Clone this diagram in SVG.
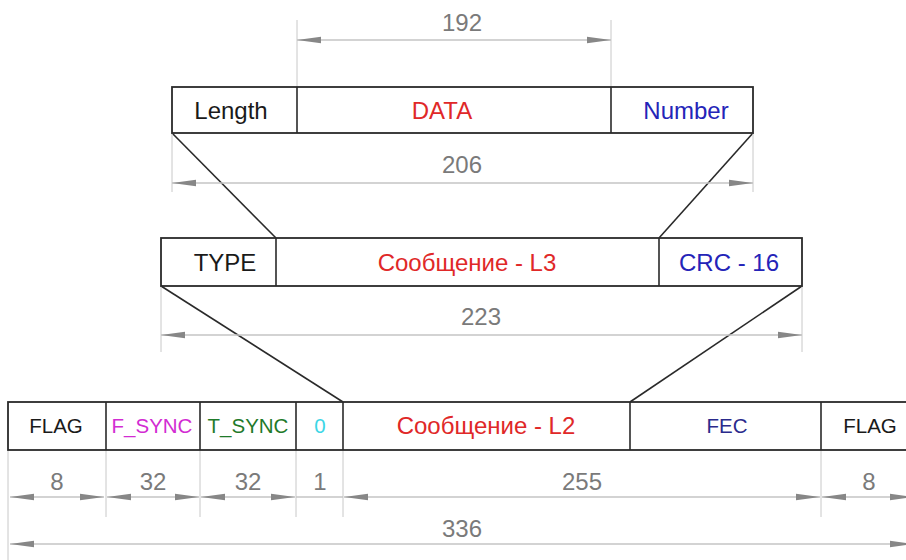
<svg xmlns="http://www.w3.org/2000/svg" width="906" height="560" viewBox="0 0 906 560">
<defs>
<style>
.box{fill:#fff;stroke:#2a2a2a;stroke-width:1.8}
.div{stroke:#2a2a2a;stroke-width:1.6}
.lbl{font-family:"Liberation Sans",Arial,sans-serif;text-anchor:middle}
.big{font-size:24px}
.sm{font-size:20.5px}
.dim{font-family:"Liberation Sans",Arial,sans-serif;font-size:24px;fill:#7a7a7a;text-anchor:middle}
.ext{stroke:#c8c8c8;stroke-width:1}
.dl{stroke:#c4c4c4;stroke-width:1.4;fill:none}
.conn{stroke:#2a2a2a;stroke-width:1.6;fill:none}
</style>
<marker id="aS" markerWidth="24" markerHeight="8" refX="0" refY="4" orient="auto" markerUnits="userSpaceOnUse">
<path d="M0,4 L24,0.8 L24,7.2 Z" fill="#878787"/>
</marker>
<marker id="aE" markerWidth="24" markerHeight="8" refX="24" refY="4" orient="auto" markerUnits="userSpaceOnUse">
<path d="M24,4 L0,0.8 L0,7.2 Z" fill="#878787"/>
</marker>
</defs>

<g id="connectors">
<line class="conn" x1="172" y1="133" x2="276" y2="238"/>
<line class="conn" x1="753" y1="133" x2="659" y2="238"/>
<line class="conn" x1="161" y1="286" x2="343" y2="402"/>
<line class="conn" x1="802" y1="286" x2="630" y2="402"/>
</g>

<g id="dimensions">
<line class="ext" x1="297" y1="20" x2="297" y2="87"/>
<line class="ext" x1="611" y1="20" x2="611" y2="87"/>
<line class="dl" x1="297" y1="40" x2="611" y2="40" marker-start="url(#aS)" marker-end="url(#aE)"/>
<text class="dim" x="462" y="31">192</text>

<line class="ext" x1="172" y1="133" x2="172" y2="192"/>
<line class="ext" x1="753" y1="133" x2="753" y2="192"/>
<line class="dl" x1="172" y1="183" x2="753" y2="183" marker-start="url(#aS)" marker-end="url(#aE)"/>
<text class="dim" x="462" y="173">206</text>

<line class="ext" x1="161" y1="286" x2="161" y2="352"/>
<line class="ext" x1="802" y1="286" x2="802" y2="352"/>
<line class="dl" x1="161" y1="335" x2="802" y2="335" marker-start="url(#aS)" marker-end="url(#aE)"/>
<text class="dim" x="481" y="325">223</text>

<line class="ext" x1="8" y1="450" x2="8" y2="560"/>
<line class="ext" x1="106" y1="450" x2="106" y2="517"/>
<line class="ext" x1="200" y1="450" x2="200" y2="517"/>
<line class="ext" x1="296" y1="450" x2="296" y2="517"/>
<line class="ext" x1="343" y1="450" x2="343" y2="517"/>
<line class="ext" x1="821" y1="450" x2="821" y2="517"/>

<line class="dl" x1="10" y1="497" x2="104" y2="497" marker-start="url(#aS)" marker-end="url(#aE)"/>
<text class="dim" x="57" y="490">8</text>
<line class="dl" x1="107" y1="497" x2="199" y2="497" marker-start="url(#aS)" marker-end="url(#aE)"/>
<text class="dim" x="153" y="490">32</text>
<line class="dl" x1="201" y1="497" x2="295" y2="497" marker-start="url(#aS)" marker-end="url(#aE)"/>
<text class="dim" x="248" y="490">32</text>
<line class="dl" x1="296" y1="497" x2="343" y2="497"/>
<text class="dim" x="320" y="490">1</text>
<line class="dl" x1="344" y1="497" x2="820" y2="497" marker-start="url(#aS)" marker-end="url(#aE)"/>
<text class="dim" x="582" y="490">255</text>
<line class="dl" x1="822" y1="497" x2="914" y2="497" marker-start="url(#aS)" marker-end="url(#aE)"/>
<text class="dim" x="869" y="490">8</text>

<line class="dl" x1="10" y1="544" x2="914" y2="544" marker-start="url(#aS)" marker-end="url(#aE)"/>
<text class="dim" x="462" y="537">336</text>
</g>

<g id="frame-top">
<rect class="box" x="172" y="87" width="581" height="46"/>
<line class="div" x1="297" y1="87" x2="297" y2="133"/>
<line class="div" x1="611" y1="87" x2="611" y2="133"/>
<text class="lbl big" x="231" y="119" fill="#1a1a1a">Length</text>
<text class="lbl big" x="442" y="119" fill="#e02828">DATA</text>
<text class="lbl big" x="686" y="119" fill="#2424b8">Number</text>
</g>

<g id="frame-mid">
<rect class="box" x="161" y="238" width="641" height="48"/>
<line class="div" x1="276" y1="238" x2="276" y2="286"/>
<line class="div" x1="659" y1="238" x2="659" y2="286"/>
<text class="lbl big" x="225" y="271" fill="#1a1a1a">TYPE</text>
<text class="lbl big" x="467" y="271" fill="#e02828">Сообщение - L3</text>
<text class="lbl big" x="729" y="271" fill="#2424b8">CRC - 16</text>
</g>

<g id="frame-bottom">
<rect class="box" x="8" y="402" width="910" height="48"/>
<line class="div" x1="106" y1="402" x2="106" y2="450"/>
<line class="div" x1="200" y1="402" x2="200" y2="450"/>
<line class="div" x1="296" y1="402" x2="296" y2="450"/>
<line class="div" x1="343" y1="402" x2="343" y2="450"/>
<line class="div" x1="630" y1="402" x2="630" y2="450"/>
<line class="div" x1="821" y1="402" x2="821" y2="450"/>
<text class="lbl sm" x="56" y="433" fill="#1a1a1a">FLAG</text>
<text class="lbl sm" x="152" y="433" fill="#d22cd2">F_SYNC</text>
<text class="lbl sm" x="248" y="433" fill="#1f7a2a">T_SYNC</text>
<text class="lbl sm" x="320" y="433" fill="#3cd6e6">0</text>
<text class="lbl big" x="486" y="434" fill="#e02828">Сообщение - L2</text>
<text class="lbl sm" x="727" y="433" fill="#2a2a8c">FEC</text>
<text class="lbl sm" x="870" y="433" fill="#1a1a1a">FLAG</text>
</g>
</svg>
